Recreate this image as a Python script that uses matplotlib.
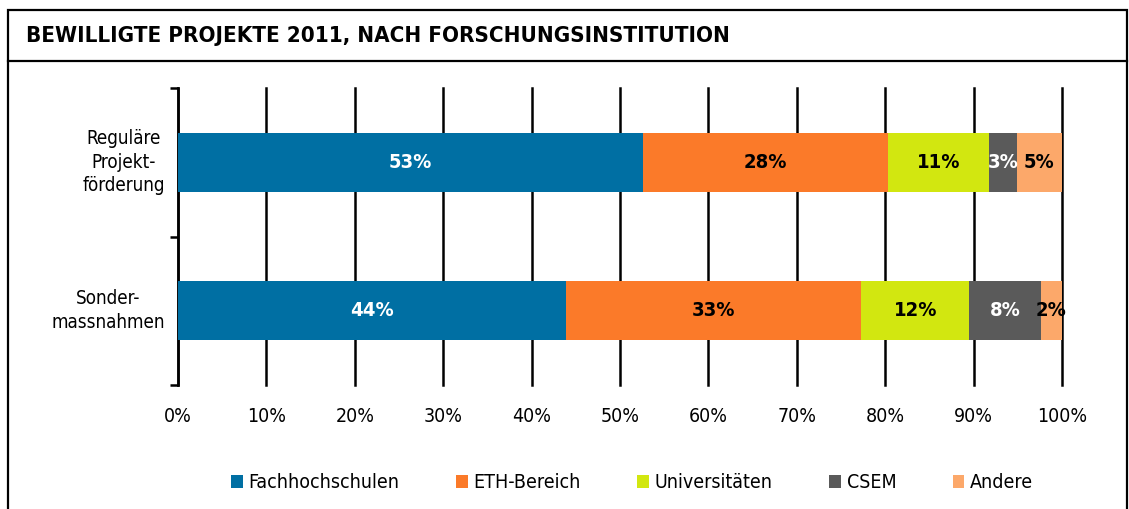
import matplotlib
matplotlib.use("Agg")
import matplotlib.pyplot as plt
from matplotlib.patches import Rectangle
from matplotlib.lines import Line2D
import numpy as np

plt.rcParams['font.family'] = ['DejaVu Sans']
plt.rcParams['font.stretch'] = 'condensed'

# Daten
kategorien = ['Reguläre\nProjekt-\nförderung', 'Sonder-\nmassnahmen']
serien = ['Fachhochschulen', 'ETH-Bereich', 'Universitäten', 'CSEM', 'Andere']
werte = {
    'Fachhochschulen': [52.6, 43.9],
    'ETH-Bereich': [27.7, 33.4],
    'Universitäten': [11.4, 12.2],
    'CSEM': [3.2, 8.1],
    'Andere': [5.1, 2.4],
}
labels = {
    'Fachhochschulen': ['53%', '44%'],
    'ETH-Bereich': ['28%', '33%'],
    'Universitäten': ['11%', '12%'],
    'CSEM': ['3%', '8%'],
    'Andere': ['5%', '2%'],
}
farben = ['#006fa3', '#fb7a29', '#d2e710', '#5a5a5a', '#fca86a']
textfarben = ['white', 'black', 'black', 'white', 'black']

fig = plt.figure(figsize=(11.29, 5.09), dpi=100)

# Rahmen und Titelzeile
fig.patches.append(Rectangle((8/1129, -0.1), 1119/1129, 1.1 - 10/509, transform=fig.transFigure,
                             fill=False, edgecolor='black', linewidth=1.6))
fig.lines.append(Line2D([8/1129, 1127/1129], [1 - 61/509, 1 - 61/509], transform=fig.transFigure,
                        color='black', linewidth=1.6))
fig.text(26/1129, 1 - 36/509, 'BEWILLIGTE PROJEKTE 2011, NACH FORSCHUNGSINSTITUTION',
         fontsize=16, fontweight='bold', va='center', ha='left')

ax = fig.add_axes([178/1129, 1 - 385/509, (1062 - 178)/1129, (385 - 88)/509])

y = np.arange(len(kategorien)) + 0.5
links = np.zeros(len(kategorien))
for i, s in enumerate(serien):
    v = np.array(werte[s])
    ax.barh(y, v, left=links, height=0.4, color=farben[i], label=s, zorder=3)
    for j in range(len(kategorien)):
        ax.text(links[j] + v[j] / 2, y[j], labels[s][j], ha='center', va='center',
                fontsize=14.5, fontweight='bold', color=textfarben[i], zorder=4)
    links += v

ax.set_xlim(0, 100)
ax.set_ylim(2, 0)
ax.set_xticks(np.arange(0, 101, 10))
ax.set_xticklabels([f'{t}%' for t in range(0, 101, 10)], fontsize=14)
ax.tick_params(axis='x', length=0, pad=16)
ax.grid(axis='x', color='black', linewidth=1.8, zorder=0)
for gl in ax.get_xgridlines():
    gl.set_clip_on(False)
ax.set_yticks([0, 1, 2])
ax.set_yticklabels([])
ax.tick_params(axis='y', which='major', length=6, width=1.8, direction='out')
for j, k in enumerate(kategorien):
    ax.text(-0.015, y[j], k, transform=ax.get_yaxis_transform(), ha='right', va='center',
            multialignment='center', fontsize=13.5, linespacing=1.3)
for sp in ['top', 'right', 'bottom']:
    ax.spines[sp].set_visible(False)
ax.spines['left'].set_linewidth(1.8)

fig.legend(loc='center', bbox_to_anchor=(0.56, 1 - 483/509), ncol=5, frameon=False,
           fontsize=14, handlelength=0.6, handleheight=0.6, handletextpad=0.3, columnspacing=2.9)

fig.savefig('out.png', dpi=100)
